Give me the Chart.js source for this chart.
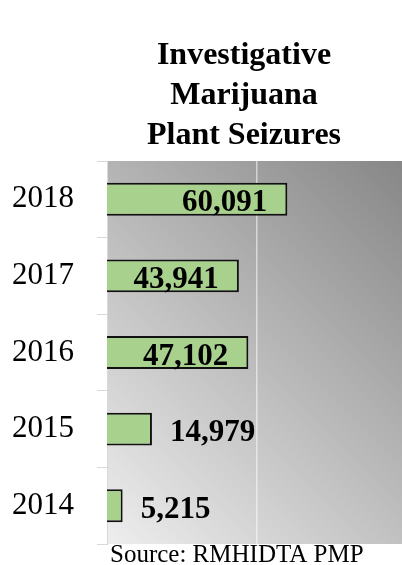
<!DOCTYPE html>
<html>
<head>
<meta charset="utf-8">
<script src="https://cdn.jsdelivr.net/npm/chart.js@4"></script>
<style>
    html, body { margin: 0; padding: 0; background: #ffffff; }
    #wrap { width: 402px; height: 565px; position: relative; }
</style>
</head>
<body>
<div id="wrap"><canvas id="seizureChart"></canvas></div>
<script>
// Chart data
const years = ['2018', '2017', '2016', '2015', '2014'];
const plantSeizures = [60091, 43941, 47102, 14979, 5215];
const titleLines = ['Investigative', 'Marijuana', 'Plant Seizures'];
const sourceNote = 'Source: RMHIDTA PMP';

const serif = "'Liberation Serif', 'DejaVu Serif', serif";

// Gray diagonal gradient behind the plot area
const plotBackground = {
    id: 'plotBackground',
    beforeDraw(chart) {
        const { ctx, chartArea: a } = chart;
        const d = (a.width + a.height) / 2;
        const g = ctx.createLinearGradient(a.left, a.bottom, a.left + d, a.bottom - d);
        g.addColorStop(0, '#eeeeee');
        g.addColorStop(1, '#878787');
        ctx.save();
        ctx.fillStyle = g;
        ctx.fillRect(a.left, a.top, a.width, a.height);
        ctx.restore();
    }
};

// Value labels: inside the bar end when they fit, otherwise just past it
const valueLabels = {
    id: 'valueLabels',
    afterDatasetsDraw(chart) {
        const ctx = chart.ctx;
        const meta = chart.getDatasetMeta(0);
        ctx.save();
        ctx.font = 'bold 31px ' + serif;
        ctx.fillStyle = '#000000';
        ctx.textBaseline = 'alphabetic';
        meta.data.forEach((bar, i) => {
            const text = plantSeizures[i].toLocaleString('en-US');
            const w = ctx.measureText(text).width;
            const len = bar.x - bar.base;
            if (len > w + 30) {
                ctx.textAlign = 'right';
                ctx.fillText(text, bar.x - 20, bar.y + 12);
            } else {
                ctx.textAlign = 'left';
                ctx.fillText(text, bar.x + 18, bar.y + 12);
            }
        });
        ctx.restore();
    }
};

// Title block and source line
const chartText = {
    id: 'chartText',
    afterDraw(chart) {
        const ctx = chart.ctx;
        ctx.save();
        ctx.fillStyle = '#000000';
        ctx.textBaseline = 'alphabetic';
        ctx.font = 'bold 32px ' + serif;
        ctx.textAlign = 'center';
        titleLines.forEach((line, i) => {
            ctx.fillText(line, 244, 64 + i * 40);
        });
        ctx.font = '25px ' + serif;
        ctx.textAlign = 'left';
        ctx.fillText(sourceNote, 110, 562);
        ctx.restore();
    }
};

new Chart(document.getElementById('seizureChart'), {
    type: 'bar',
    data: {
        labels: years,
        datasets: [{
            data: plantSeizures,
            backgroundColor: '#a9d18e',
            borderColor: '#111111',
            borderWidth: 2,
            borderSkipped: 'start',
            barPercentage: 0.43,
            categoryPercentage: 1
        }]
    },
    options: {
        indexAxis: 'y',
        responsive: true,
        maintainAspectRatio: false,
        animation: false,
        layout: {
            padding: { top: 161, bottom: 21, left: 0, right: 0 }
        },
        plugins: {
            legend: { display: false },
            title: { display: false },
            tooltip: { enabled: false }
        },
        scales: {
            x: {
                min: 0,
                max: 98300,
                afterFit: (scale) => { scale.height = 0; },
                // only the 50,000 gridline is shown
                afterBuildTicks: (scale) => { scale.ticks = [{ value: 50000 }]; },
                ticks: { display: false },
                border: { display: false },
                grid: {
                    drawTicks: false,
                    lineWidth: 1.5,
                    color: 'rgba(255,255,255,0.55)'
                }
            },
            y: {
                // fixed axis width, and no extra room for label overhang
                afterFit: (scale) => {
                    scale.width = 107;
                    scale.paddingTop = 0;
                    scale.paddingBottom = 0;
                },
                ticks: {
                    color: '#000000',
                    padding: 23,
                    font: { family: serif, size: 31 }
                },
                border: { color: '#d9d9d9', width: 1 },
                grid: {
                    drawOnChartArea: false,
                    tickLength: 10,
                    color: '#d9d9d9'
                }
            }
        }
    },
    plugins: [plotBackground, valueLabels, chartText]
});
</script>
</body>
</html>
